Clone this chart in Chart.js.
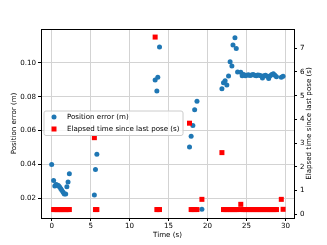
<!DOCTYPE html>
<html><head><meta charset="utf-8">
<script src="https://cdn.jsdelivr.net/npm/chart.js@4.4.1/dist/chart.umd.min.js"></script>
<style>html,body{margin:0;padding:0;background:#fff;}#wrap{width:327px;height:245px;position:relative}</style>
</head><body><div id="wrap"><canvas id="c" width="327" height="245"></canvas></div>
<script>
const times = [0, 0.25, 0.4, 0.55, 0.7, 0.85, 1.0, 1.15, 1.3, 1.47, 1.62, 1.8, 1.95, 2.1, 2.27,
  5.48, 5.62, 5.8,
  13.28, 13.5, 13.62, 13.84,
  17.69, 17.9, 18.12, 18.35, 18.65, 19.28,
  21.85, 22.05, 22.26, 22.48, 22.7, 22.9, 23.13, 23.27, 23.52, 23.69, 23.86, 24.27,
  24.45, 24.65, 24.85, 25.05, 25.25, 25.45, 25.65, 25.85, 26.05, 26.25, 26.45, 26.65,
  26.85, 27.05, 27.25, 27.45, 27.65, 27.85, 28.05, 28.25, 28.45, 28.65, 28.85,
  29.47, 29.7];
const positionError = [0.040, 0.0305, 0.0272, 0.0282, 0.0278, 0.0275, 0.0268, 0.0258, 0.0248, 0.0236, 0.0226, 0.0226, 0.0268, 0.0297, 0.0345,
  0.022, 0.037, 0.046,
  0.090, 0.0835, 0.0915, 0.1095,
  0.0503, 0.0567, 0.063, 0.0724, 0.0774, 0.0135,
  0.0848, 0.0883, 0.0895, 0.087, 0.0923, 0.1008, 0.0982, 0.1106, 0.115, 0.1085, 0.0947, 0.0945,
  0.0925, 0.0932, 0.0925, 0.0928, 0.093, 0.0926, 0.0929, 0.0932, 0.0928, 0.0925, 0.0929, 0.0927,
  0.0924, 0.0912, 0.0925, 0.0928, 0.0922, 0.0908, 0.0925, 0.0932, 0.0936, 0.0928, 0.0918,
  0.0915, 0.0922];
const elapsedTime = [null, 0.2, 0.2, 0.2, 0.2, 0.2, 0.2, 0.2, 0.2, 0.2, 0.2, 0.2, 0.2, 0.2, 0.2,
  3.23, 0.2, 0.2,
  7.47, 0.2, 0.2, 0.2,
  3.84, 0.2, 0.2, 0.2, 0.2, 0.63,
  2.6, 0.2, 0.2, 0.2, 0.2, 0.2, 0.2, 0.2, 0.2, 0.2, 0.2, 0.42,
  0.2, 0.2, 0.2, 0.2, 0.2, 0.2, 0.2, 0.2, 0.2, 0.2, 0.2, 0.2,
  0.2, 0.2, 0.2, 0.2, 0.2, 0.2, 0.2, 0.2, 0.2, 0.2, 0.2,
  0.63, 0.21];
const xTicks = [0, 5, 10, 15, 20, 25, 30];
const leftTicks = [0.02, 0.04, 0.06, 0.08, 0.10];
const rightTicks = [0, 1, 2, 3, 4, 5, 6, 7];
const seriesLabels = ['Position error (m)', 'Elapsed time since last pose (s)'];
const xTitle = 'Time (s)';
const leftTitle = 'Position error (m)';
const rightTitle = 'Elapsed time since last pose (s)';

const FONT = 'DejaVu Sans';
const FS = 7.1;
const BLUE = '#1f77b4', RED = '#ff0000';
Chart.defaults.font.family = FONT;
Chart.defaults.font.size = FS;
Chart.defaults.color = '#000';

const overlay = {
  id: 'overlay',
  afterDatasetsDraw(chart) {
    const {ctx, chartArea: a} = chart;
    ctx.save();
    ctx.strokeStyle = '#000'; ctx.lineWidth = 1;
    ctx.strokeRect(a.left + 0.5, a.top + 0.5, a.right - a.left, a.bottom - a.top);
    ctx.restore();
  },
  afterDraw(chart) {
    const {ctx, chartArea: a} = chart;
    ctx.save();
    // right axis title
    ctx.font = FS + 'px "' + FONT + '"';
    ctx.fillStyle = '#000';
    ctx.textAlign = 'center'; ctx.textBaseline = 'middle';
    ctx.translate(309.5, (a.top + a.bottom) / 2);
    ctx.rotate(-Math.PI / 2);
    ctx.fillText(rightTitle, 0, 0);
    ctx.restore();
    // legend
    ctx.save();
    ctx.font = FS + 'px "' + FONT + '"';
    const tx = 67;
    const w = Math.max(ctx.measureText(seriesLabels[0]).width, ctx.measureText(seriesLabels[1]).width);
    const bx = 44, by = 111, bw = tx + w + 3.5 - bx, bh = 24.5, r = 2;
    ctx.beginPath();
    ctx.moveTo(bx + r, by); ctx.lineTo(bx + bw - r, by); ctx.arcTo(bx + bw, by, bx + bw, by + r, r);
    ctx.lineTo(bx + bw, by + bh - r); ctx.arcTo(bx + bw, by + bh, bx + bw - r, by + bh, r);
    ctx.lineTo(bx + r, by + bh); ctx.arcTo(bx, by + bh, bx, by + bh - r, r);
    ctx.lineTo(bx, by + r); ctx.arcTo(bx, by, bx + r, by, r); ctx.closePath();
    ctx.fillStyle = 'rgba(255,255,255,0.8)'; ctx.fill();
    ctx.strokeStyle = '#cccccc'; ctx.lineWidth = 1; ctx.stroke();
    const rows = [117, 129];
    ctx.fillStyle = BLUE; ctx.beginPath(); ctx.arc(54, rows[0], 2.5, 0, Math.PI * 2); ctx.fill();
    ctx.fillStyle = RED; ctx.fillRect(51.5, rows[1] - 2.5, 5, 5);
    ctx.fillStyle = '#000'; ctx.textAlign = 'left'; ctx.textBaseline = 'middle';
    ctx.fillText(seriesLabels[0], tx, rows[0]);
    ctx.fillText(seriesLabels[1], tx, rows[1]);
    ctx.restore();
  }
};

new Chart(document.getElementById('c'), {
  type: 'scatter',
  data: {
    datasets: [
      { label: seriesLabels[0], data: times.map((t, i) => ({x: t, y: positionError[i]})),
        yAxisID: 'y', backgroundColor: BLUE, borderWidth: 0, pointRadius: 2.5, pointStyle: 'circle', order: 1 },
      { label: seriesLabels[1], data: times.map((t, i) => ({x: t, y: elapsedTime[i]})),
        yAxisID: 'y1', backgroundColor: RED, borderWidth: 0, pointRadius: 3.54, pointStyle: 'rect', order: 0 }
    ]
  },
  options: {
    responsive: false, animation: false, devicePixelRatio: 1,
    layout: { padding: { top: 29, left: 0, right: 0, bottom: 0 } },
    plugins: { legend: { display: false }, tooltip: { enabled: false } },
    scales: {
      x: {
        type: 'linear', position: 'bottom', min: -1.37, max: 31.1,
        afterBuildTicks: s => { s.ticks = xTicks.map(v => ({value: v})); },
        afterFit: s => { s.height = 27; },
        ticks: { padding: 1, callback: v => String(v), maxRotation: 0, autoSkip: false },
        grid: { color: '#d3d3d3', lineWidth: 1, tickLength: 3, tickColor: '#000' },
        border: { display: false },
        title: { display: true, text: xTitle, padding: { top: 0, bottom: 5.5 } }
      },
      y: {
        type: 'linear', position: 'left', min: 0.00835, max: 0.1201,
        afterBuildTicks: s => { s.ticks = leftTicks.map(v => ({value: v})); },
        afterFit: s => { s.width = 41; },
        ticks: { padding: 2, callback: v => v.toFixed(2), autoSkip: false },
        grid: { color: '#d3d3d3', lineWidth: 1, tickLength: 3, tickColor: '#000' },
        border: { display: false },
        title: { display: true, text: leftTitle, padding: { top: 9.8, bottom: 0 } }
      },
      y1: {
        type: 'linear', position: 'right', min: -0.156, max: 7.81,
        afterBuildTicks: s => { s.ticks = rightTicks.map(v => ({value: v})); },
        afterFit: s => { s.width = 33; },
        ticks: { padding: 3, callback: v => String(v), autoSkip: false },
        grid: { drawOnChartArea: false, tickLength: 3, tickColor: '#000' },
        border: { display: false },
        title: { display: false }
      }
    }
  },
  plugins: [overlay]
});
</script></body></html>
